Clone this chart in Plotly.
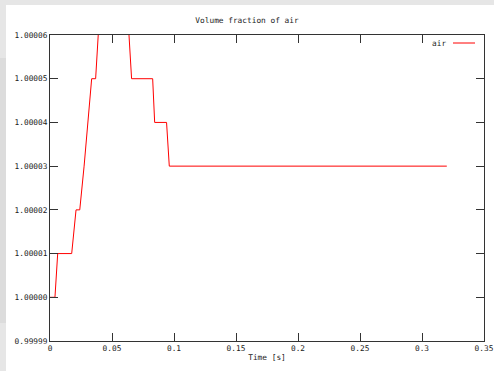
import plotly.graph_objects as go

time_s = [0, 0.004, 0.0062, 0.0175, 0.021, 0.024, 0.0275, 0.0305, 0.0336, 0.0368,
          0.0387, 0.041, 0.050, 0.061, 0.0637, 0.0658, 0.0828, 0.0844, 0.094, 0.0962, 0.32]
air = [1.00000, 1.00000, 1.00001, 1.00001, 1.00002, 1.00002, 1.00003, 1.00004, 1.00005, 1.00005,
       1.00006, 1.00007, 1.00007, 1.00007, 1.00006, 1.00005, 1.00005, 1.00004, 1.00004, 1.00003, 1.00003]

x_ticks = [0, 0.05, 0.1, 0.15, 0.2, 0.25, 0.3, 0.35]
x_labels = ["0", "0.05", "0.1", "0.15", "0.2", "0.25", "0.3", "0.35"]
y_ticks = [0.99999, 1.00000, 1.00001, 1.00002, 1.00003, 1.00004, 1.00005, 1.00006]
y_labels = ["0.99999", "1.00000", "1.00001", "1.00002", "1.00003", "1.00004", "1.00005", "1.00006"]

FONT = "DejaVu Sans Mono"
FS = 7.8
TXT = "#222222"
FRAME = "#333333"

fig = go.Figure()
fig.add_trace(go.Scatter(x=time_s, y=air, mode="lines", name="air",
                         line=dict(color="#ff0000", width=1), showlegend=False))

W, H = 494, 371
L, R, T, B = 50, 10, 35, 30
pw, ph = W - L - R, H - T - B
def px(xp): return (xp - L) / pw
def py(yp): return (H - B - yp) / ph

shapes = [
    dict(type="rect", xref="paper", yref="paper", x0=px(0), x1=px(W), y0=py(5), y1=py(0),
         fillcolor="#e6e6e6", line=dict(width=0), layer="below"),
    dict(type="rect", xref="paper", yref="paper", x0=px(0), x1=px(6), y0=py(H), y1=py(0),
         fillcolor="#e6e6e6", line=dict(width=0), layer="below"),
    dict(type="rect", xref="paper", yref="paper", x0=px(0), x1=px(6), y0=py(323), y1=py(58),
         fillcolor="#dcdcdc", line=dict(width=0), layer="below"),
    # legend sample
    dict(type="line", xref="paper", yref="paper", x0=px(453), x1=px(475), y0=py(43), y1=py(43),
         line=dict(color="#ff0000", width=1)),
]

axis_common = dict(ticks="inside", ticklen=8, tickwidth=1, tickcolor=FRAME, showline=True,
                   linecolor=FRAME, linewidth=1, mirror="ticks", showgrid=False, zeroline=False,
                   tickmode="array", automargin=False,
                   tickfont=dict(family=FONT, size=FS, color=TXT))

fig.update_layout(
    width=W, height=H,
    margin=dict(l=L, r=R, t=T, b=B),
    paper_bgcolor="white", plot_bgcolor="white",
    font=dict(family=FONT, size=FS, color=TXT),
    title=dict(text="Volume fraction of air", x=px(267), xanchor="center",
               y=1 - 20.5 / H, yanchor="middle", font=dict(family=FONT, size=FS, color=TXT)),
    shapes=shapes,
    annotations=[dict(text="air", xref="paper", yref="paper", x=px(448), y=py(43),
                      xanchor="right", yanchor="middle", showarrow=False,
                      font=dict(family=FONT, size=FS, color=TXT))],
    xaxis=dict(range=[0, 0.35], tickvals=x_ticks, ticktext=x_labels,
               title=dict(text="Time [s]", standoff=2, font=dict(family=FONT, size=FS, color=TXT)),
               **axis_common),
    yaxis=dict(range=[0.99999, 1.00006], tickvals=y_ticks, ticktext=y_labels,
               **axis_common),
)

fig.write_html("out.html")
